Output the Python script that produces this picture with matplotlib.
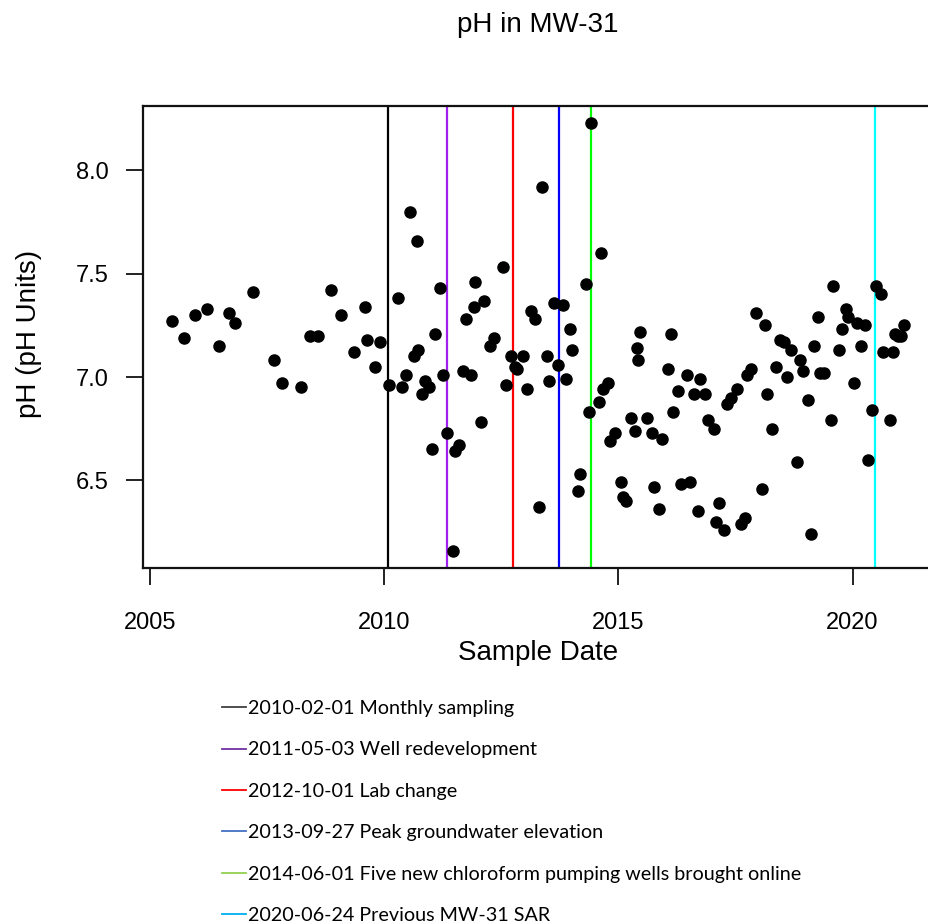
"""pH in MW-31 over time, with vertical markers for site events."""
import datetime as dt

import numpy as np
import matplotlib
matplotlib.use("Agg")
import matplotlib.pyplot as plt
from matplotlib.lines import Line2D

# sample dates (decimal years) and pH readings
sample_year = [
    2005.48, 2005.73, 2005.96, 2006.22, 2006.47, 2006.70, 2006.82, 2007.21,
    2007.65, 2007.82, 2008.22, 2008.42, 2008.60, 2008.86, 2009.09, 2009.36,
    2009.60, 2009.64, 2009.80, 2009.92, 2010.11, 2010.30, 2010.38, 2010.46,
    2010.56, 2010.63, 2010.71, 2010.73, 2010.81, 2010.87, 2010.96, 2011.02,
    2011.08, 2011.20, 2011.25, 2011.35, 2011.47, 2011.51, 2011.59, 2011.68,
    2011.75, 2011.86, 2011.92, 2011.95, 2012.06, 2012.13, 2012.26, 2012.34,
    2012.53, 2012.60, 2012.72, 2012.79, 2012.84, 2012.97, 2013.06, 2013.13,
    2013.22, 2013.30, 2013.37, 2013.48, 2013.52, 2013.62, 2013.72, 2013.81,
    2013.88, 2013.96, 2014.02, 2014.14, 2014.19, 2014.32, 2014.37, 2014.41,
    2014.58, 2014.64, 2014.68, 2014.77, 2014.83, 2014.94, 2015.05, 2015.10,
    2015.17, 2015.28, 2015.35, 2015.39, 2015.42, 2015.46, 2015.61, 2015.71,
    2015.76, 2015.86, 2015.93, 2016.06, 2016.12, 2016.17, 2016.28, 2016.33,
    2016.46, 2016.53, 2016.62, 2016.70, 2016.75, 2016.85, 2016.92, 2017.05,
    2017.09, 2017.16, 2017.26, 2017.32, 2017.41, 2017.53, 2017.61, 2017.70,
    2017.74, 2017.83, 2017.93, 2018.06, 2018.13, 2018.17, 2018.29, 2018.37,
    2018.45, 2018.53, 2018.61, 2018.69, 2018.81, 2018.87, 2018.94, 2019.04,
    2019.11, 2019.18, 2019.27, 2019.31, 2019.40, 2019.53, 2019.59, 2019.72,
    2019.77, 2019.86, 2019.91, 2020.04, 2020.09, 2020.18, 2020.27, 2020.34,
    2020.42, 2020.51, 2020.60, 2020.65, 2020.80, 2020.86, 2020.91, 2020.97,
    2021.04, 2021.10,
]
ph = [
    7.27, 7.19, 7.30, 7.33, 7.15, 7.31, 7.26, 7.41,
    7.08, 6.97, 6.95, 7.20, 7.20, 7.42, 7.30, 7.12,
    7.34, 7.18, 7.05, 7.17, 6.96, 7.38, 6.95, 7.01,
    7.80, 7.10, 7.66, 7.13, 6.92, 6.98, 6.95, 6.65,
    7.21, 7.43, 7.01, 6.73, 6.16, 6.64, 6.67, 7.03,
    7.28, 7.01, 7.34, 7.46, 6.78, 7.37, 7.15, 7.19,
    7.53, 6.96, 7.10, 7.05, 7.04, 7.10, 6.94, 7.32,
    7.28, 6.37, 7.92, 7.10, 6.98, 7.36, 7.06, 7.35,
    6.99, 7.23, 7.13, 6.45, 6.53, 7.45, 6.83, 8.23,
    6.88, 7.60, 6.94, 6.97, 6.69, 6.73, 6.49, 6.42,
    6.40, 6.80, 6.74, 7.14, 7.08, 7.22, 6.80, 6.73,
    6.47, 6.36, 6.70, 7.04, 7.21, 6.83, 6.93, 6.48,
    7.01, 6.49, 6.92, 6.35, 6.99, 6.92, 6.79, 6.75,
    6.30, 6.39, 6.26, 6.87, 6.90, 6.94, 6.29, 6.32,
    7.01, 7.04, 7.31, 6.46, 7.25, 6.92, 6.75, 7.05,
    7.18, 7.17, 7.00, 7.13, 6.59, 7.08, 7.03, 6.89,
    6.24, 7.15, 7.29, 7.02, 7.02, 6.79, 7.44, 7.13,
    7.23, 7.33, 7.29, 6.97, 7.26, 7.15, 7.25, 6.60,
    6.84, 7.44, 7.40, 7.12, 6.79, 7.12, 7.21, 7.20,
    7.20, 7.25,
]

event_dates = ["2010-02-01", "2011-05-03", "2012-10-01",
               "2013-09-27", "2014-06-01", "2020-06-24"]
event_names = ["Monthly sampling", "Well redevelopment", "Lab change",
               "Peak groundwater elevation",
               "Five new chloroform pumping wells brought online",
               "Previous MW-31 SAR"]
line_colors = ["black", "#A020F0", "red", "blue", "#00FF00", "cyan"]
legend_colors = ["#404040", "#7030A0", "#FF0000", "#4472C4", "#92D050", "#00B0F0"]


def decimal_year(s):
    d = dt.date.fromisoformat(s)
    start = dt.date(d.year, 1, 1)
    length = (dt.date(d.year + 1, 1, 1) - start).days
    return d.year + (d - start).days / length


def padded(vals, frac=0.04):
    lo, hi = min(vals), max(vals)
    r = hi - lo
    return lo - frac * r, hi + frac * r


def main():
    plt.rcParams["font.family"] = ["Liberation Sans", "DejaVu Sans"]
    fig = plt.figure(figsize=(9.29, 9.24), dpi=100)
    ax = fig.add_axes([0.1539, 0.3856, 0.8508, 0.5])

    for d, c in zip(event_dates, line_colors):
        ax.axvline(decimal_year(d), color=c, lw=1.6, zorder=1)
    ax.plot(sample_year, ph, "o", color="black", ms=8, zorder=3)

    ax.set_xlim(*padded(sample_year))
    ax.set_ylim(*padded(ph))
    ax.set_xticks([2005, 2010, 2015, 2020])
    ax.set_yticks([6.5, 7.0, 7.5, 8.0])
    ax.set_yticklabels(["6.5", "7.0", "7.5", "8.0"])
    ax.tick_params(direction="out", length=12, width=1.4, labelsize=17,
                   color="#222222")
    ax.tick_params(axis="x", pad=20)
    ax.tick_params(axis="y", pad=13)
    for sp in ax.spines.values():
        sp.set_linewidth(1.6)
        sp.set_color("#111111")

    fig.text(538 / 929, 1 - 25 / 924, "pH in MW-31", fontsize=20,
             ha="center", va="center")
    fig.text(538 / 929, 1 - 653 / 924, "Sample Date", fontsize=20,
             ha="center", va="center")
    fig.text(29 / 929, 1 - 334 / 924, "pH (pH Units)", fontsize=20,
             ha="center", va="center", rotation=90)

    handles = [Line2D([], [], color=c, lw=1.3) for c in legend_colors]
    labels = [f"{d} {n}" for d, n in zip(event_dates, event_names)]
    fig.legend(handles, labels, loc="upper left",
               bbox_to_anchor=(222 / 929, 1 - 700 / 924),
               frameon=False, borderpad=0, borderaxespad=0,
               handlelength=1.2, handletextpad=0.1, labelspacing=1.24,
               prop={"family": "Lato", "size": 14.2})

    fig.savefig("out.png", dpi=100)


if __name__ == "__main__":
    main()
